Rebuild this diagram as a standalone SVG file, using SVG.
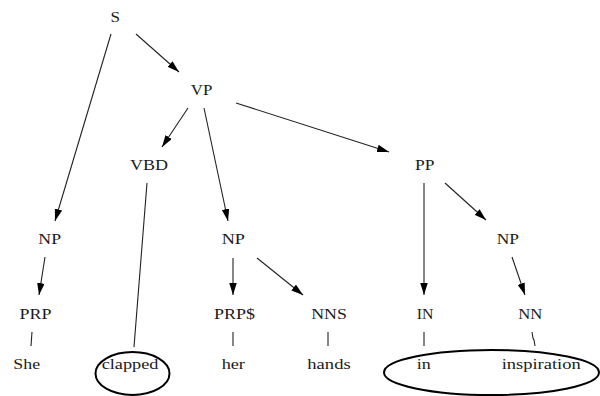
<svg xmlns="http://www.w3.org/2000/svg" width="600" height="396" viewBox="0 0 600 396">
<style>
.t text{font-size:15px;fill:#1a1a1a;text-anchor:middle}
.e{stroke:#222;stroke-width:1.1;fill:none}
.a{marker-end:url(#ah)}
.o{stroke:#000;stroke-width:2;fill:none}
</style>
<defs>
<marker id="ah" markerUnits="userSpaceOnUse" markerWidth="13" markerHeight="8" refX="12" refY="3.75" orient="auto">
<path d="M0,0 L12,3.75 L0,7.5 Z" fill="#000"/>
</marker>
</defs>
<rect width="600" height="396" fill="#fff"/>
<g id="connectors">
<line class="e a" x1="111" y1="34" x2="55" y2="221"/>
<line class="e a" x1="136" y1="34" x2="179" y2="72"/>
<line class="e a" x1="188" y1="108" x2="162" y2="147"/>
<line class="e a" x1="204" y1="108" x2="228" y2="221"/>
<line class="e a" x1="236" y1="103" x2="389" y2="152"/>
<line class="e a" x1="424" y1="183" x2="424" y2="295"/>
<line class="e a" x1="445" y1="183" x2="486" y2="220"/>
<line class="e a" x1="45" y1="257" x2="39" y2="295"/>
<line class="e a" x1="233" y1="258" x2="233" y2="295"/>
<line class="e a" x1="257" y1="258" x2="303" y2="295"/>
<line class="e a" x1="512" y1="257" x2="525" y2="295"/>
<line class="e" x1="147" y1="183" x2="134" y2="347"/>
<line class="e" x1="32" y1="332" x2="31" y2="346"/>
<line class="e" x1="233" y1="332" x2="233" y2="346"/>
<line class="e" x1="328" y1="332" x2="328" y2="346"/>
<line class="e" x1="424" y1="332" x2="424" y2="346"/>
<polyline class="e" points="532,332 533,338 534,340 535,346"/>
</g>
<g class="t" font-family="'Liberation Serif', 'DejaVu Serif', serif">
<g id="n-S"><text x="115.3" y="21.7" textLength="9.5" lengthAdjust="spacingAndGlyphs">S</text></g>
<g id="n-VP"><text x="201.5" y="95" textLength="21.6" lengthAdjust="spacingAndGlyphs">VP</text></g>
<g id="n-VBD"><text x="149" y="170" textLength="38" lengthAdjust="spacingAndGlyphs">VBD</text></g>
<g id="n-PP"><text x="424.7" y="170" textLength="19.5" lengthAdjust="spacingAndGlyphs">PP</text></g>
<g id="n-NP1"><text x="49.7" y="244.3" textLength="22.7" lengthAdjust="spacingAndGlyphs">NP</text></g>
<g id="n-NP2"><text x="233.3" y="244.3" textLength="23.3" lengthAdjust="spacingAndGlyphs">NP</text></g>
<g id="n-NP3"><text x="507.8" y="244.3" textLength="22.3" lengthAdjust="spacingAndGlyphs">NP</text></g>
<g id="n-PRP"><text x="35.5" y="319" textLength="32" lengthAdjust="spacingAndGlyphs">PRP</text></g>
<g id="n-PRPS"><text x="234.5" y="319" textLength="41" lengthAdjust="spacingAndGlyphs">PRP$</text></g>
<g id="n-NNS"><text x="329" y="319" textLength="35.7" lengthAdjust="spacingAndGlyphs">NNS</text></g>
<g id="n-IN"><text x="425" y="319" textLength="16.7" lengthAdjust="spacingAndGlyphs">IN</text></g>
<g id="n-NN"><text x="530.3" y="319" textLength="24" lengthAdjust="spacingAndGlyphs">NN</text></g>
<g id="w-She"><text x="26.7" y="369.3" textLength="26.7" lengthAdjust="spacingAndGlyphs">She</text></g>
<g id="w-clapped"><text x="130" y="369.3" textLength="56.7" lengthAdjust="spacingAndGlyphs">clapped</text><ellipse class="o" cx="132.5" cy="373.5" rx="37" ry="21.5"/></g>
<g id="w-her"><text x="233.3" y="369.3" textLength="23.3" lengthAdjust="spacingAndGlyphs">her</text></g>
<g id="w-hands"><text x="329" y="369.3" textLength="43.3" lengthAdjust="spacingAndGlyphs">hands</text></g>
<g id="w-in"><text x="423.7" y="369.3" textLength="14" lengthAdjust="spacingAndGlyphs">in</text></g>
<g id="w-inspiration"><text x="541.2" y="369.3" textLength="79" lengthAdjust="spacingAndGlyphs">inspiration</text></g>
</g>
<g id="group-in-inspiration"><ellipse class="o" cx="491.5" cy="372.5" rx="107.5" ry="22.5"/></g>
</svg>
